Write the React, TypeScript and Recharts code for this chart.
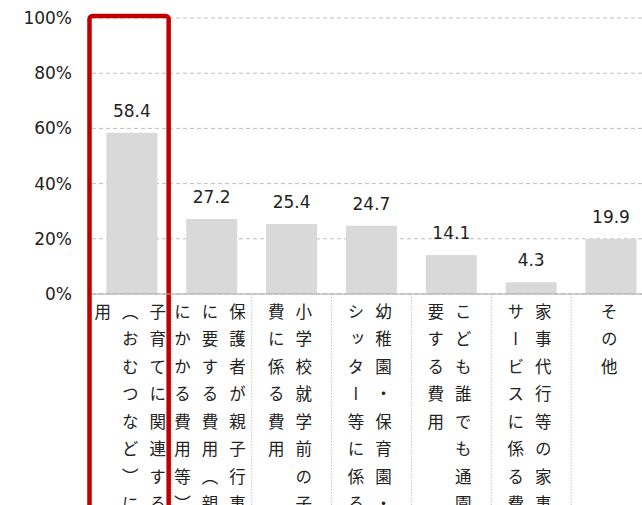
import React from 'react';
import {
  BarChart, Bar, XAxis, YAxis, CartesianGrid, LabelList, ReferenceArea,
} from 'recharts';

// label columns, right-to-left as they read (vertical text)
const labelColumns: string[][] = [
  ['子育てに関連する', '（おむつなど）に', '用'],
  ['保護者が親子行事', 'に要する費用（親', 'にかかる費用等）'],
  ['小学校就学前の子', '費に係る費用'],
  ['幼稚園・保育園・', 'シッター等に係る'],
  ['こども誰でも通園', '要する費用'],
  ['家事代行等の家事', 'サービスに係る費'],
  ['その他'],
];
const categories = labelColumns.map((c) => c.join(''));
const values = [58.4, 27.2, 25.4, 24.7, 14.1, 4.3, 19.9];
const yTicks = [0, 20, 40, 60, 80, 100];

const chartData = categories.map((name, i) => ({ name, value: values[i] }));

const CHART_W = 651;
const CHART_H = 505;
const Y_AXIS_W = 92;
const BAND = (CHART_W - Y_AXIS_W) / categories.length;

const NUM_FONT = '"DejaVu Sans", Verdana, sans-serif';
const JP_FONT = '"Noto Sans CJK JP", "Noto Sans", sans-serif';

const VerticalTick = (props: any) => {
  const { x, y, payload } = props;
  const idx = categories.indexOf(payload.value);
  const cols = labelColumns[idx] || [];
  return (
    <g>
      {idx > 0 && (
        <line
          x1={x - BAND / 2}
          x2={x - BAND / 2}
          y1={y}
          y2={CHART_H}
          stroke="#c4c4c4"
          strokeDasharray="1.5 1.5"
        />
      )}
      <foreignObject x={x - 62.5} y={y + 8.5} width={120} height={260}>
        <div style={{ display: 'flex', justifyContent: 'center', width: 120 }}>
          <div
            style={{
              writingMode: 'vertical-rl',
              fontFamily: JP_FONT,
              fontSize: 16.5,
              lineHeight: '27.5px',
              letterSpacing: '11px',
              color: '#222',
              height: 260,
              whiteSpace: 'nowrap',
            }}
          >
            {cols.map((c, i) => (
              <React.Fragment key={i}>
                {c}
                {i < cols.length - 1 && <br />}
              </React.Fragment>
            ))}
          </div>
        </div>
      </foreignObject>
    </g>
  );
};

const HighlightBox = (p: any) => (
  <rect
    x={p.x - 2.5}
    y={p.y}
    width={p.width - 0.7}
    height={p.height}
    rx={3}
    fill="none"
    stroke="#c00000"
    strokeWidth={4.5}
  />
);

export default function App() {
  return (
    <div
      style={{
        position: 'fixed', left: 0, top: 0, width: 642, height: 505,
        overflow: 'hidden', background: '#fff',
      }}
    >
      <BarChart
        width={CHART_W}
        height={CHART_H}
        data={chartData}
        margin={{ top: 18, right: 0, bottom: 0, left: 0 }}
        barCategoryGap="18%"
      >
        <CartesianGrid vertical={false} stroke="#bfbfbf" strokeDasharray="4 3" />
        <XAxis
          dataKey="name"
          height={CHART_H - 18 - 276}
          interval={0}
          tickLine={false}
          tickSize={0}
          tickMargin={0}
          axisLine={{ stroke: '#a6a6a6' }}
          tick={<VerticalTick />}
        />
        <YAxis
          width={Y_AXIS_W}
          domain={[0, 100]}
          ticks={yTicks}
          tickFormatter={(v: number) => `${v}%`}
          axisLine={false}
          tickLine={false}
          tickSize={0}
          tickMargin={20}
          tick={{ fontSize: 17, fill: '#222', fontFamily: NUM_FONT }}
        />
        <Bar dataKey="value" fill="#d9d9d9" isAnimationActive={false}>
          <LabelList
            dataKey="value"
            position="top"
            offset={16}
            formatter={(v: any) => Number(v).toFixed(1)}
            style={{ fontSize: 17, fill: '#222', fontFamily: NUM_FONT }}
          />
        </Bar>
        <ReferenceArea
          x1={categories[0]}
          x2={categories[0]}
          y1={100.7}
          y2={-85}
          ifOverflow="visible"
          shape={<HighlightBox />}
        />
      </BarChart>
    </div>
  );
}
